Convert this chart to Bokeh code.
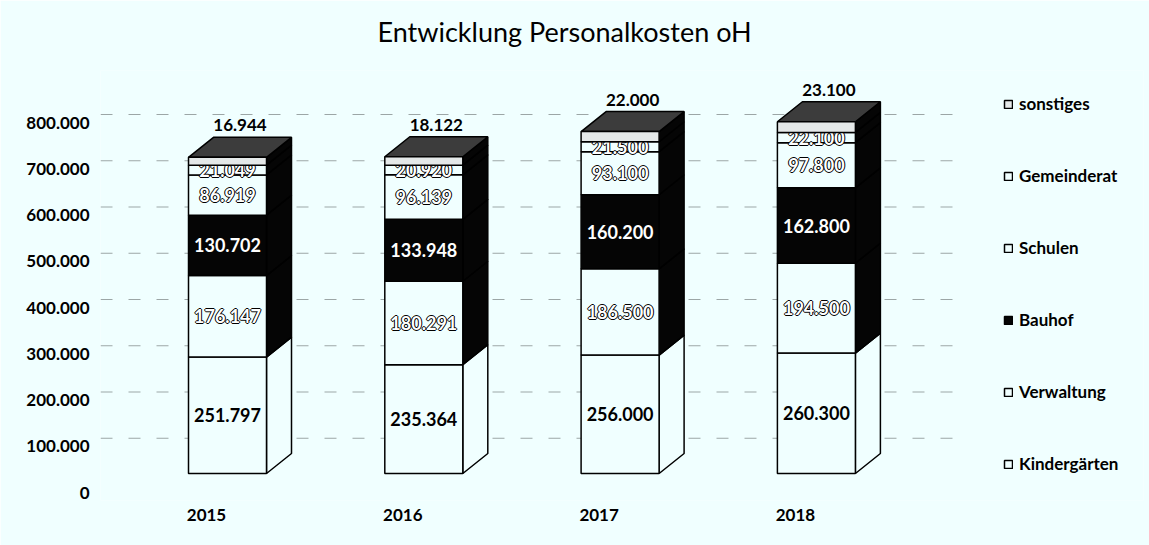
from bokeh.plotting import figure
from bokeh.models import (ColumnDataSource, Range1d, LinearAxis, FixedTicker,
                          Legend, LegendItem, Title)
from bokeh.core.properties import value
from bokeh.embed import file_html
from bokeh.resources import INLINE

# ---------------- data ----------------
years = ["2015", "2016", "2017", "2018"]
kindergaerten = [251797, 235364, 256000, 260300]
verwaltung = [176147, 180291, 186500, 194500]
bauhof = [130702, 133948, 160200, 162800]
schulen = [86919, 96139, 93100, 97800]
gemeinderat = [21049, 20920, 21500, 22100]
sonstiges = [16944, 18122, 22000, 23100]
series_names = ["Kindergärten", "Verwaltung", "Bauhof", "Schulen", "Gemeinderat", "sonstiges"]
y_ticks = [0, 100000, 200000, 300000, 400000, 500000, 600000, 700000, 800000]
y_tick_labels = ["0", "100.000", "200.000", "300.000", "400.000", "500.000",
                 "600.000", "700.000", "800.000"]
grid_ticks = [100000, 200000, 300000, 400000, 500000, 600000, 700000, 800000]
title_text = "Entwicklung Personalkosten oH"

series_values = [kindergaerten, verwaltung, bauhof, schulen, gemeinderat, sonstiges]

# ---------------- styles ----------------
BG = "#f0ffff"
FONT = "Lato"
DARK = "#050505"
front_fill = [BG, BG, DARK, BG, BG, "#e4e8e8"]
side_fill = [BG, DARK, DARK, DARK, DARK, DARK]
label_color = ["black", "white", "white", "white", "white", "black"]
label_halo = [False, True, False, True, True, False]

# geometry (pixels -> data units)
PX_PER_X = 196.3
PX_PER_Y = 46.25 / 100000.0
BAR_W = 78 / PX_PER_X
DX = 25 / PX_PER_X
DY = 20 / PX_PER_Y

FRAME_L, FRAME_R, FRAME_T, FRAME_B = 100, 1143, 70, 500
GRID_R = 965
ZERO_FRONT, ZERO_AXIS, ZERO_GRID = 473, 492, 484
FRONT_CX0 = 227

x_start = -(FRONT_CX0 - FRAME_L) / PX_PER_X
x_end = (FRAME_R - FRONT_CX0) / PX_PER_X
grid_x_end = (GRID_R - FRONT_CX0) / PX_PER_X
y_start = -(FRAME_B - ZERO_FRONT) / PX_PER_Y
y_end = (ZERO_FRONT - FRAME_T) / PX_PER_Y
span_y = y_end - y_start
ax_start = -(FRAME_B - ZERO_AXIS) / PX_PER_Y
grid_start = -(FRAME_B - ZERO_GRID) / PX_PER_Y
xax_shift = 21 / PX_PER_X

W, H = 1149, 545
p = figure(width=W, height=H, output_backend="svg", toolbar_location=None,
           x_range=Range1d(x_start, x_end), y_range=Range1d(y_start, y_end),
           min_border_left=FRAME_L, min_border_right=W - FRAME_R,
           min_border_top=FRAME_T, min_border_bottom=H - FRAME_B,
           background_fill_color=BG, border_fill_color=BG, outline_line_color=None)
p.title = None
p.xaxis.visible = False
p.yaxis.visible = False
p.grid.visible = False

p.extra_y_ranges = {"ax": Range1d(ax_start, ax_start + span_y),
                    "grid": Range1d(grid_start, grid_start + span_y)}
p.extra_x_ranges = {"xax": Range1d(x_start + xax_shift, x_end + xax_shift)}

# spacer line between title and plot area, then the title itself
p.add_layout(Title(text=" ", text_font_size="6px", text_color=BG), "above")
p.add_layout(Title(text=title_text, align="left", offset=277, text_font=FONT,
                   text_font_size="27px", text_font_style="normal",
                   text_color="black"), "above")

# dashed background grid lines (drawn from the tick values)
grid_src = ColumnDataSource(dict(y=grid_ticks,
                                 x0=[x_start] * len(grid_ticks),
                                 x1=[grid_x_end] * len(grid_ticks)))
p.segment(x0="x0", y0="y", x1="x1", y1="y", source=grid_src, y_range_name="grid",
          line_color="black", line_alpha=0.35, line_dash="12 16", line_width=1)

yax = LinearAxis(y_range_name="ax", ticker=FixedTicker(ticks=y_ticks),
                 major_label_overrides={t: l for t, l in zip(y_ticks, y_tick_labels)},
                 axis_line_color=None, major_tick_line_color=None,
                 minor_tick_line_color=None, major_tick_out=0, major_tick_in=0,
                 major_label_standoff=11, major_label_text_font=FONT,
                 major_label_text_font_style="bold", major_label_text_font_size="17px",
                 major_label_text_color="black")
p.add_layout(yax, "left")

idx = list(range(len(years)))
xax = LinearAxis(x_range_name="xax", ticker=FixedTicker(ticks=idx),
                 major_label_overrides={i: y for i, y in zip(idx, years)},
                 axis_line_color=None, major_tick_line_color=None,
                 minor_tick_line_color=None, major_tick_out=0, major_tick_in=0,
                 major_label_standoff=8, major_label_text_font=FONT,
                 major_label_text_font_style="bold", major_label_text_font_size="17px",
                 major_label_text_color="black")
p.add_layout(xax, "below")

cum = [0] * len(years)
front_renderers = []
hw = BAR_W / 2
for s, (name, vals) in enumerate(zip(series_names, series_values)):
    bottom = cum[:]
    top = [b + v for b, v in zip(bottom, vals)]
    cum = top
    side_src = ColumnDataSource(dict(
        xs=[[i + hw, i + hw + DX, i + hw + DX, i + hw] for i in idx],
        ys=[[b, b + DY, t + DY, t] for b, t in zip(bottom, top)]))
    p.patches("xs", "ys", source=side_src, fill_color=side_fill[s],
              line_color="black", line_width=1.5)
    if s == len(series_names) - 1:
        top_src = ColumnDataSource(dict(
            xs=[[i - hw, i - hw + DX, i + hw + DX, i + hw] for i in idx],
            ys=[[t, t + DY, t + DY, t] for t in top]))
        p.patches("xs", "ys", source=top_src, fill_color="#3c3c3c",
                  line_color="black", line_width=1.5)
    src = ColumnDataSource(dict(x=idx, bottom=bottom, top=top,
                                lab=[f"{v:,}".replace(",", ".") for v in vals],
                                mid=[(b + t) / 2 for b, t in zip(bottom, top)],
                                lx=[i + DX / 2 for i in idx],
                                ty=[t + DY for t in top]))
    r = p.vbar(x="x", width=BAR_W, bottom="bottom", top="top", source=src,
               fill_color=front_fill[s], line_color="black", line_width=1.5)
    front_renderers.append((name, r))
    if s == len(series_names) - 1:
        p.text(x="lx", y="ty", text="lab", source=src, text_align="center",
               text_baseline="bottom", y_offset=-6, text_font=value(FONT),
               text_font_size="17px", text_font_style="bold", text_color="black")
    else:
        common = dict(x="x", y="mid", text="lab", source=src, text_align="center",
                      text_baseline="middle", text_font=value(FONT),
                      text_font_size="18px", text_font_style="bold")
        if label_halo[s]:
            for ox, oy in [(-1, 0), (1, 0), (0, -1), (0, 1)]:
                p.text(x_offset=ox, y_offset=oy, text_color="black", **common)
        p.text(text_color=label_color[s], **common)

items = [LegendItem(label=n, renderers=[r]) for n, r in reversed(front_renderers)]
legend = Legend(items=items, location=(903, 26), orientation="vertical",
                glyph_width=10, glyph_height=10, label_height=20, spacing=51,
                label_standoff=6, padding=0, margin=0, border_line_color=None,
                background_fill_alpha=0, label_text_font=FONT,
                label_text_font_size="17px", label_text_font_style="bold",
                label_text_color="black")
p.add_layout(legend)

open("out.html", "w").write(file_html(p, INLINE))
